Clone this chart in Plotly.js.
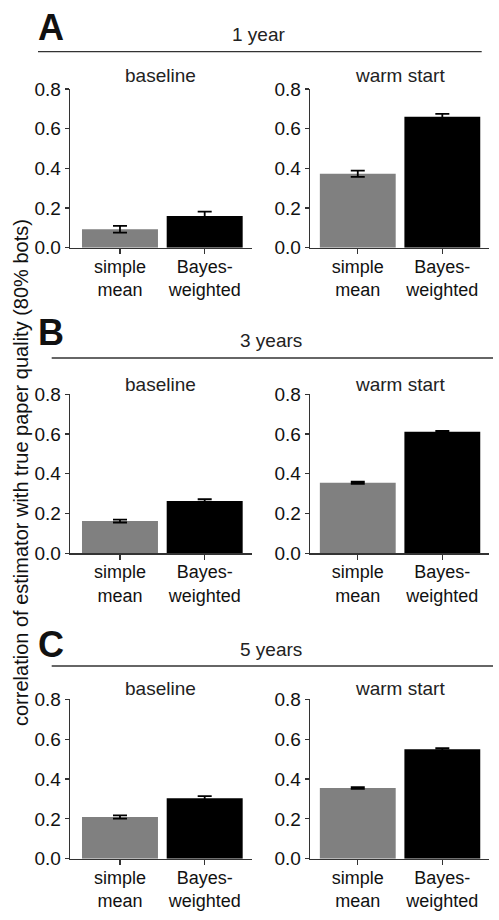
<!DOCTYPE html>
<html>
<head>
<meta charset="utf-8">
<script src="https://cdn.plot.ly/plotly-3.0.1.min.js"></script>
<style>
  html, body { margin: 0; padding: 0; background: #fff; }
  #chart { width: 499px; height: 920px; }
</style>
</head>
<body>
<div id="chart"></div>
<script>
// ---- data ----
const categories = ["simple mean", "Bayes-weighted"];
const tickLabels = ["simple<br>mean", "Bayes-<br>weighted"];
const panelLetters = ["A", "B", "C"];
const horizons = ["1 year", "3 years", "5 years"];
const conditions = ["baseline", "warm start"];

const year1Baseline = [0.093, 0.160];
const year1BaselineErr = [0.017, 0.022];
const year1Warm = [0.373, 0.660];
const year1WarmErr = [0.016, 0.015];

const year3Baseline = [0.162, 0.263];
const year3BaselineErr = [0.007, 0.009];
const year3Warm = [0.355, 0.612];
const year3WarmErr = [0.005, 0.004];

const year5Baseline = [0.209, 0.303];
const year5BaselineErr = [0.008, 0.011];
const year5Warm = [0.355, 0.549];
const year5WarmErr = [0.004, 0.006];

const yTickVals = [0, 0.2, 0.4, 0.6, 0.8];
const yAxisTitle = "correlation of estimator with true paper quality (80% bots)";

// ---- layout helpers ----
const W = 499, H = 920;
const px = x => x / W;
const py = y => 1 - y / H;

const series = [
  [year1Baseline, year1BaselineErr, year1Warm, year1WarmErr],
  [year3Baseline, year3BaselineErr, year3Warm, year3WarmErr],
  [year5Baseline, year5BaselineErr, year5Warm, year5WarmErr]
];

// pixel geometry per row: [plotTop, plotBottom]
const rowY = [[89, 247.7], [394.3, 553.3], [699.3, 858.7]];
const colX = [[70, 251.7], [310, 489]];
const colRange = [[-0.59, 1.555], [-0.565, 1.552]];
const letterY = [27.5, 332.5, 644];
const headerY = [34, 340, 649];
const headerX = [258, 271, 271];
const lineY = [51.7, 358, 666];
const lineX = [[38, 481.7], [51.7, 493], [51.7, 493]];
const subY = [76, 384, 688];

const FONT = "'Liberation Sans', Arial, sans-serif";
const barColors = ["#808080", "#000000"];

const traces = [];
const layout = {
  width: W, height: H,
  margin: {l: 0, r: 0, t: 0, b: 0},
  paper_bgcolor: "#fff", plot_bgcolor: "#fff",
  showlegend: false,
  font: {family: FONT, size: 19, color: "#111"},
  annotations: [], shapes: []
};

let k = 0;
for (let r = 0; r < 3; r++) {
  for (let c = 0; c < 2; c++) {
    k++;
    const xa = k === 1 ? "x" : "x" + k;
    const ya = k === 1 ? "y" : "y" + k;
    const vals = series[r][c * 2];
    const errs = series[r][c * 2 + 1];
    traces.push({
      type: "bar",
      x: categories,
      y: vals,
      xaxis: xa, yaxis: ya,
      width: 0.897,
      marker: {color: barColors, line: {width: 0}},
      error_y: {type: "data", array: errs, visible: true, color: "#000", thickness: 1.8, width: 7}
    });
    const xName = k === 1 ? "xaxis" : "xaxis" + k;
    const yName = k === 1 ? "yaxis" : "yaxis" + k;
    layout[xName] = {
      domain: [px(colX[c][0]), px(colX[c][1])],
      anchor: ya,
      type: "category",
      range: colRange[c],
      tickvals: categories,
      ticktext: tickLabels,
      ticks: "outside", ticklen: 5, tickwidth: 1.3, tickcolor: "#333",
      ticklabelstandoff: -3,
      showline: true, linecolor: "#333", linewidth: 1.3,
      showgrid: false, zeroline: false,
      tickfont: {family: FONT, size: 18, color: "#111"},
      fixedrange: true
    };
    layout[yName] = {
      domain: [py(rowY[r][1]), py(rowY[r][0])],
      anchor: xa,
      range: [0, 0.8],
      tickvals: yTickVals,
      tickformat: ".1f",
      ticks: "outside", ticklen: 4, tickwidth: 1.3, tickcolor: "#333",
      showline: true, linecolor: "#333", linewidth: 1.3,
      showgrid: false, zeroline: false,
      tickfont: {family: FONT, size: 19, color: "#111"},
      fixedrange: true
    };
    layout.annotations.push({
      text: conditions[c], xref: "paper", yref: "paper",
      x: px((colX[c][0] + colX[c][1]) / 2), y: py(subY[r]),
      xanchor: "center", yanchor: "middle", showarrow: false,
      font: {family: FONT, size: 19, color: "#222"}
    });
  }
  layout.annotations.push({
    text: "<b>" + panelLetters[r] + "</b>", xref: "paper", yref: "paper",
    x: px(51), y: py(letterY[r]), xanchor: "center", yanchor: "middle",
    showarrow: false, font: {family: FONT, size: 36, color: "#111"}
  });
  layout.annotations.push({
    text: horizons[r], xref: "paper", yref: "paper",
    x: px(headerX[r]), y: py(headerY[r]), xanchor: "center", yanchor: "middle",
    showarrow: false, font: {family: FONT, size: 19, color: "#222"}
  });
  layout.shapes.push({
    type: "line", xref: "paper", yref: "paper",
    x0: px(lineX[r][0]), x1: px(lineX[r][1]), y0: py(lineY[r]), y1: py(lineY[r]),
    line: {color: "#333", width: 1.3}
  });
}

layout.annotations.push({
  text: yAxisTitle, xref: "paper", yref: "paper",
  x: px(21), y: py(473), xanchor: "center", yanchor: "middle",
  textangle: -90, showarrow: false,
  font: {family: FONT, size: 20, color: "#111"}
});

Plotly.newPlot("chart", traces, layout, {staticPlot: true, displayModeBar: false});
</script>
</body>
</html>
